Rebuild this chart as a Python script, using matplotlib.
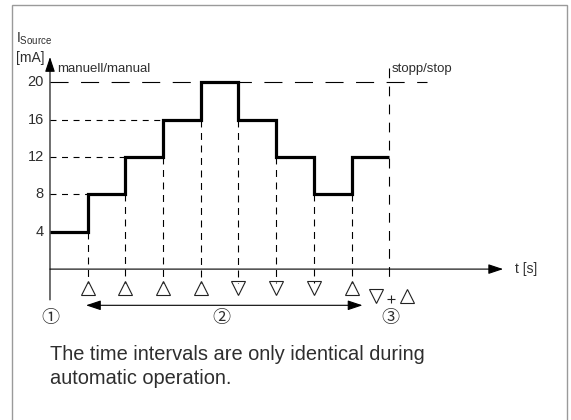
import matplotlib
matplotlib.use('Agg')
import matplotlib.pyplot as plt
from matplotlib.patches import Rectangle

plt.rcParams['font.family'] = ['Liberation Sans', 'DejaVu Sans']
plt.rcParams['lines.scale_dashes'] = False

# source current steps: one level per interval between key presses
step_times = [0, 1, 2, 3, 4, 5, 6, 7, 8, 9]
levels = [4, 8, 12, 16, 20, 16, 12, 8, 12]
tick_values = [4, 8, 12, 16, 20]
key_dirs = ['up', 'up', 'up', 'up', 'down', 'down', 'down', 'up']  # keys at t=1..8
stop_time = 9

fig = plt.figure(figsize=(5.71, 4.2), dpi=100)
ax = fig.add_axes([0, 0, 1, 1])
ax.set_xlim(-1.326, 13.82)
ax.set_ylim(-16.15, 28.8)
ax.axis('off')

# frame around the figure
fig.patches.append(Rectangle((12 / 571, -0.05), (567 - 12) / 571, 1.05 - 5 / 420,
                             transform=fig.transFigure, fill=False,
                             edgecolor='#9a9a9a', lw=1.0))

txt = '#2e2e2e'
arrow_kw = dict(arrowstyle='-|>,head_length=0.45,head_width=0.15', lw=0.8,
                color='k', mutation_scale=20, shrinkA=0, shrinkB=0)

# axes with arrows
ax.annotate('', xy=(12.02, 0), xytext=(0, 0), arrowprops=arrow_kw)
ax.annotate('', xy=(0, 22.7), xytext=(0, -3.3), arrowprops=arrow_kw)
ax.text(12.33, 0, 't [s]', fontsize=10, color=txt, va='center', ha='left')
ax.text(-0.9, 24.7, r'$\mathregular{I_{Source}}$', fontsize=10, color=txt,
        va='center', ha='left')
ax.text(-0.9, 22.6, '[mA]', fontsize=10, color=txt, va='center', ha='left')

for v in tick_values:
    ax.text(-0.16, v, str(v), fontsize=10.5, color=txt, va='center', ha='right')

# dashed guides from the y axis to each rising step
for i, v in enumerate(levels[1:4]):
    ax.plot([0, step_times[i + 1]], [v, v], color='k', lw=0.8, dashes=(4.3, 4.0))
ax.plot([0, 10.0], [20, 20], color='k', lw=0.8, dashes=(13, 9))

# dashed verticals at each key press
for i in range(1, len(levels)):
    low = min(levels[i - 1], levels[i])
    ax.plot([step_times[i], step_times[i]], [low, -1.49], color='k', lw=0.8,
            dashes=(5, 4))
ax.plot([stop_time, stop_time], [21.5, -1.49], color='k', lw=0.8, dashes=(7, 6))

# the current staircase
xs = step_times
ys = levels + [levels[-1]]
ax.step(xs, ys, where='post', color='k', lw=2.3, solid_joinstyle='miter',
        solid_capstyle='butt')

# key symbols under the time axis
for i, d in enumerate(key_dirs):
    ax.plot(step_times[i + 1], -2.02, marker='^' if d == 'up' else 'v',
            ms=10.5, mfc='none', mec='#222', mew=0.8)
ax.plot(8.65, -2.85, marker='v', ms=10.5, mfc='none', mec='#222', mew=0.8)
ax.plot(9.04, -3.2, marker='+', ms=6, mec='#222', mew=0.8)
ax.plot(9.47, -2.85, marker='^', ms=10.5, mfc='none', mec='#222', mew=0.8)

# interval arrow for automatic stepping
ax.annotate('', xy=(8.29, -3.875), xytext=(0.955, -3.875),
            arrowprops=dict(arrowstyle='<|-|>,head_length=0.45,head_width=0.15',
                            lw=0.8, color='k', mutation_scale=20,
                            shrinkA=0, shrinkB=0))

circ_font = ['Noto Sans CJK JP', 'DejaVu Sans']
for x, s in [(0.02, '\u2460'), (4.55, '\u2461'), (9.04, '\u2462')]:
    ax.text(x, -5.2, s, fontsize=13, color=txt, ha='center', va='center',
            family=circ_font)

ax.text(0.18, 21.4, 'manuell/manual', fontsize=9.5, color=txt, va='center')
ax.text(9.07, 21.4, 'stopp/stop', fontsize=9.5, color=txt, va='center')

fig.text(50 / 571, 1 - 355 / 420, 'The time intervals are only identical during',
         fontsize=14.4, color=txt, va='center', ha='left')
fig.text(50 / 571, 1 - 378 / 420, 'automatic operation.',
         fontsize=14.4, color=txt, va='center', ha='left')

fig.savefig('out.png', dpi=100)
